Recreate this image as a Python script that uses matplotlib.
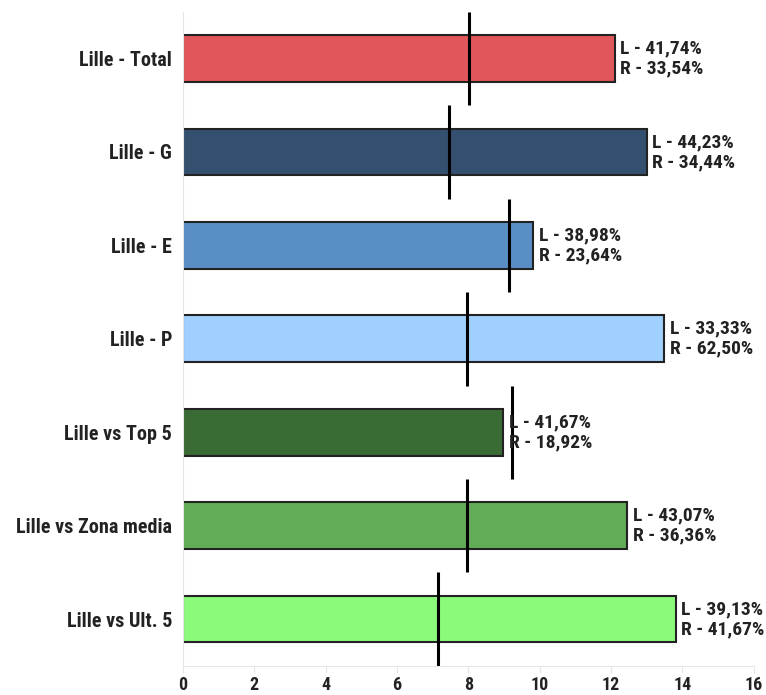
import numpy as np
from matplotlib import pyplot as plt
from matplotlib import font_manager as fm

# pick a narrow/condensed face if one is installed
names = {f.name for f in fm.fontManager.ttflist}
fam = ['DejaVu Sans']
for cand in ['Liberation Sans Narrow', 'Roboto Condensed', 'Open Sans Condensed']:
    if cand in names:
        fam = [cand, 'DejaVu Sans']
        break
plt.rcParams['font.family'] = fam
plt.rcParams['font.stretch'] = 'condensed'
plt.rcParams['font.weight'] = 'bold'

# data
categories = ['Lille - Total', 'Lille - G', 'Lille - E', 'Lille - P',
              'Lille vs Top 5', 'Lille vs Zona media', 'Lille vs Ult. 5']
bar_values = [12.1, 13.0, 9.82, 13.49, 8.98, 12.45, 13.81]
line_values = [8.02, 7.46, 9.15, 7.96, 9.23, 7.96, 7.16]
pct_L = ['41,74%', '44,23%', '38,98%', '33,33%', '41,67%', '43,07%', '39,13%']
pct_R = ['33,54%', '34,44%', '23,64%', '62,50%', '18,92%', '36,36%', '41,67%']
colors = ['#e0565b', '#34506e', '#5a8fc6', '#a0d0ff', '#3a6b35', '#62ac58', '#8bfa7a']
xticks = [0, 2, 4, 6, 8, 10, 12, 14, 16]

fig = plt.figure(figsize=(7.66, 6.95), dpi=100)
ax = fig.add_axes([0.239, 0.042, 0.745, 0.941])

y = np.arange(len(categories))
ax.barh(y, bar_values, height=0.5, color=colors, edgecolor='#222222', linewidth=1.5, zorder=2)

# black marker lines over each bar
for yi, v in zip(y, line_values):
    ax.plot([v, v], [yi - 0.5, yi + 0.5], color='black', linewidth=2.2, zorder=3,
            solid_capstyle='butt')

for yi, v, l, r in zip(y, bar_values, pct_L, pct_R):
    ax.text(v + 0.16, yi, 'L - %s\nR - %s' % (l, r), va='center', ha='left',
            fontsize=14, fontweight='bold', color='#222222', linespacing=1.15, zorder=4)

ax.set_yticks(y)
ax.set_yticklabels(categories, fontsize=14.5, fontweight='bold', color='#222222')
ax.set_xticks(xticks)
ax.set_xticklabels([str(t) for t in xticks], fontsize=13, fontweight='bold', color='#222222')
ax.set_xlim(0, 16)
ax.set_ylim(len(categories) - 0.5, -0.5)

for s in ['top', 'right']:
    ax.spines[s].set_visible(False)
for s in ['left', 'bottom']:
    ax.spines[s].set_color('#e6e6e6')
ax.tick_params(axis='y', length=0, pad=8)
ax.tick_params(axis='x', length=5, color='#e6e6e6', pad=2)

plt.savefig('out.png', dpi=100)
